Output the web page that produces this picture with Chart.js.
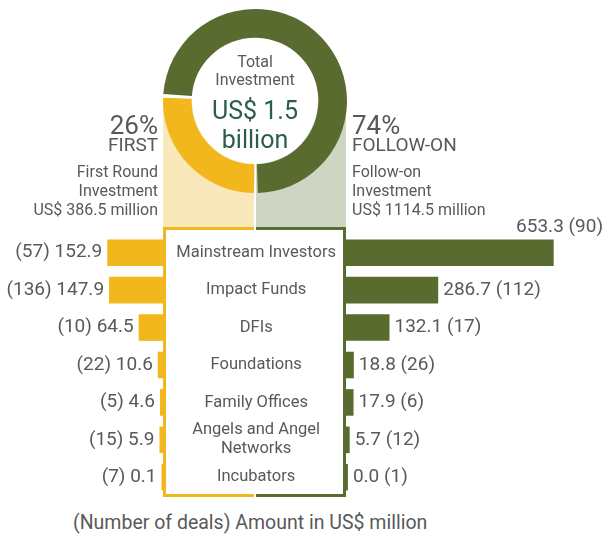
<!DOCTYPE html>
<html>
<head>
<meta charset="utf-8">
<script src="https://cdn.jsdelivr.net/npm/chart.js@4.4.1/dist/chart.umd.min.js"></script>
<style>
    html, body { margin: 0; padding: 0; background: #fff; }
    body { width: 604px; height: 535px; position: relative; overflow: hidden; font-family: Roboto, sans-serif; color: #595959; }
    .abs { position: absolute; }
    .t { position: absolute; line-height: 1; white-space: nowrap; }
    .r { text-align: right; }
    .c { text-align: center; }
    .lines { font-size: 16px; line-height: 19px; }
</style>
</head>
<body>
<!-- pale bands under the doughnut -->
<div class="abs" style="left:163px; top:102px; width:91px; height:125px; background:#f9e8ba"></div>
<div class="abs" style="left:256px; top:102px; width:90px; height:125px; background:#ced6c3"></div>
<!-- centre box, two halves -->
<div class="abs" style="left:163px; top:227px; width:91px; height:270px; box-sizing:border-box; border:3px solid #f2b71d; border-right:none; background:#fff"></div>
<div class="abs" style="left:256px; top:227px; width:90px; height:270px; box-sizing:border-box; border:3px solid #5a6b2f; border-left:none; background:#fff"></div>

<canvas id="donut" class="abs" style="left:155px; top:1px" width="200" height="200"></canvas>
<canvas id="leftBars" class="abs" style="left:0; top:200px" width="163" height="300"></canvas>
<canvas id="rightBars" class="abs" style="left:163px; top:200px" width="441" height="300"></canvas>

<!-- centre of the doughnut -->
<div class="t c" style="left:205px; width:100px; top:54px; font-size:16px">Total</div>
<div class="t c" style="left:205px; width:100px; top:72px; font-size:16px">Investment</div>
<div class="t c" style="left:195px; width:120px; top:98px; font-size:25px; color:#2b5d4c">US$ 1.5</div>
<div class="t c" style="left:195px; width:120px; top:127px; font-size:25px; color:#2b5d4c">billion</div>

<!-- left annotation -->
<div class="t r" id="firstPct" style="right:446px; top:112px; font-size:26px"></div>
<div class="t r" style="right:446px; top:135px; font-size:19px">FIRST</div>
<div class="t r lines" style="right:446px; top:162px">First Round<br>Investment<br>US$ 386.5 million</div>

<!-- right annotation -->
<div class="t" id="followPct" style="left:352px; top:112px; font-size:26px"></div>
<div class="t" style="left:352px; top:135px; font-size:19px">FOLLOW-ON</div>
<div class="t lines" style="left:352px; top:162px">Follow-on<br>Investment<br>US$ 1114.5 million</div>

<div class="t" style="left:73px; top:513px; font-size:19.5px">(Number of deals) Amount in US$ million</div>

<script>
const YELLOW = '#f2b71d';
const GREEN = '#5a6b2f';
const TEXT = '#595959';

// doughnut: first round vs follow-on (US$ million)
const rounds = ['First', 'Follow-on'];
const roundAmounts = [386.5, 1114.5];

// butterfly bars
const investorTypes = [
    'Mainstream Investors',
    'Impact Funds',
    'DFIs',
    'Foundations',
    'Family Offices',
    ['Angels and Angel', 'Networks'],
    'Incubators'
];
const firstAmounts = [152.9, 147.9, 64.5, 10.6, 4.6, 5.9, 0.1];
const firstDeals = [57, 136, 10, 22, 5, 15, 7];
const followAmounts = [653.3, 286.7, 132.1, 18.8, 17.9, 5.7, 0.0];
const followDeals = [90, 112, 17, 26, 6, 12, 1];

Chart.defaults.font.family = 'Roboto';
Chart.defaults.color = TEXT;

const total = roundAmounts[0] + roundAmounts[1];
document.getElementById('firstPct').textContent = Math.round(roundAmounts[0] / total * 100) + '%';
document.getElementById('followPct').textContent = Math.round(roundAmounts[1] / total * 100) + '%';

// white hole so the pale bands don't show through
const holeFill = {
    id: 'holeFill',
    beforeDatasetsDraw(chart) {
        const arc = chart.getDatasetMeta(0).data[0];
        const { x, y, innerRadius } = arc.getProps(['x', 'y', 'innerRadius'], true);
        const ctx = chart.ctx;
        ctx.save();
        ctx.fillStyle = '#fff';
        ctx.beginPath();
        ctx.arc(x, y, innerRadius + 0.5, 0, Math.PI * 2);
        ctx.fill();
        ctx.restore();
    }
};

new Chart(document.getElementById('donut'), {
    type: 'doughnut',
    data: {
        labels: rounds,
        datasets: [{
            data: roundAmounts,
            backgroundColor: [YELLOW, GREEN],
            borderWidth: 0,
            spacing: 2
        }]
    },
    options: {
        responsive: false,
        animation: false,
        events: [],
        rotation: 180,
        radius: 91,
        cutout: '68.5%',
        plugins: { legend: { display: false }, tooltip: { enabled: false } }
    },
    plugins: [holeFill]
});

// "(deals) amount" labels beside the bars
function valueLabels(side, deals) {
    return {
        id: 'valueLabels',
        afterDatasetsDraw(chart) {
            const ctx = chart.ctx;
            const values = chart.data.datasets[0].data;
            ctx.save();
            ctx.font = '19px Roboto';
            ctx.fillStyle = TEXT;
            ctx.textBaseline = 'middle';
            chart.getDatasetMeta(0).data.forEach((bar, i) => {
                const amount = values[i].toFixed(1);
                if (side === 'left') {
                    ctx.textAlign = 'right';
                    ctx.fillText(`(${deals[i]}) ${amount}`, bar.x - 5, bar.y);
                } else {
                    const label = `${amount} (${deals[i]})`;
                    const w = ctx.measureText(label).width;
                    if (bar.x + 5 + w > chart.width) {
                        // no room: put it above the bar
                        ctx.textAlign = 'right';
                        ctx.fillText(label, chart.width - 1, bar.y - bar.height / 2 - 12);
                    } else {
                        ctx.textAlign = 'left';
                        ctx.fillText(label, bar.x + 5, bar.y);
                    }
                }
            });
            ctx.restore();
        }
    };
}

const barPadding = { top: 34, bottom: 4, left: 0, right: 0 };

new Chart(document.getElementById('leftBars'), {
    type: 'bar',
    data: {
        labels: investorTypes,
        datasets: [{
            data: firstAmounts,
            backgroundColor: YELLOW,
            base: -4,
            barPercentage: 0.71,
            categoryPercentage: 1
        }]
    },
    options: {
        indexAxis: 'y',
        responsive: false,
        animation: false,
        events: [],
        layout: { padding: barPadding },
        plugins: { legend: { display: false }, tooltip: { enabled: false } },
        scales: {
            x: { display: false, reverse: true, min: -4, max: 455 },
            y: { display: false }
        }
    },
    plugins: [valueLabels('left', firstDeals)]
});

new Chart(document.getElementById('rightBars'), {
    type: 'bar',
    data: {
        labels: investorTypes,
        datasets: [{
            data: followAmounts,
            backgroundColor: GREEN,
            base: -6,
            barPercentage: 0.71,
            categoryPercentage: 1
        }]
    },
    options: {
        indexAxis: 'y',
        responsive: false,
        animation: false,
        events: [],
        layout: { padding: barPadding },
        plugins: { legend: { display: false }, tooltip: { enabled: false } },
        scales: {
            x: { display: false, min: -6, max: 813 },
            y: {
                position: 'left',
                grid: { display: false, drawTicks: false },
                border: { display: false },
                ticks: {
                    autoSkip: false,
                    crossAlign: 'center',
                    padding: 10,
                    color: TEXT,
                    font: { size: 16.5, lineHeight: 1.15 }
                },
                // labels sit inside the centre box; keep rows aligned with the left chart
                afterFit(scale) {
                    scale.width = 183;
                    scale.paddingTop = 0;
                    scale.paddingBottom = 0;
                }
            }
        }
    },
    plugins: [valueLabels('right', followDeals)]
});
</script>
</body>
</html>
